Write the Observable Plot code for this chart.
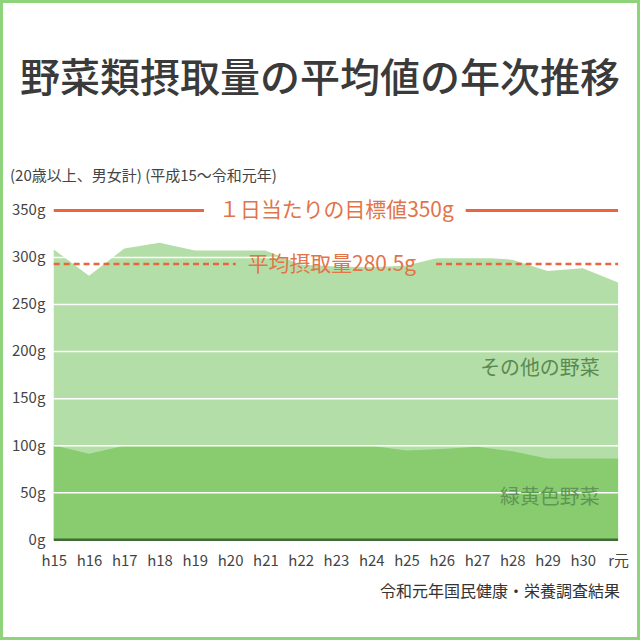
<!DOCTYPE html>
<html><head><meta charset="utf-8">
<script src="https://cdn.jsdelivr.net/npm/d3@7"></script>
<script src="https://cdn.jsdelivr.net/npm/@observablehq/plot@0.6"></script>
<style>
html,body{margin:0;padding:0;background:#fff;}
#frame{position:relative;width:640px;height:640px;box-sizing:border-box;border:3px solid #8fd47c;background:#fff;font-family:"Noto Sans CJK JP",sans-serif;overflow:hidden;}
#title{position:absolute;left:0;width:634px;top:47px;text-align:center;font-size:40px;line-height:50px;color:#3a3a3a;font-weight:500;white-space:nowrap;}
#subtitle{position:absolute;left:7px;top:161px;font-size:15px;line-height:22px;color:#444;white-space:nowrap;}
#chart{position:absolute;left:-3px;top:187px;}
#caption{position:absolute;right:17px;top:575px;font-size:16px;line-height:24px;color:#333;white-space:nowrap;}
</style></head>
<body>
<div id="frame">
  <div id="title">野菜類摂取量の平均値の年次推移</div>
  <div id="subtitle">(20歳以上、男女計) (平成15〜令和元年)</div>
  <div id="chart"></div>
  <div id="caption">令和元年国民健康・栄養調査結果</div>
</div>
<script>
// Data
const years = ["h15","h16","h17","h18","h19","h20","h21","h22","h23","h24","h25","h26","h27","h28","h29","h30","r元"];
const totalVeg = [308, 280, 309, 315, 307, 307, 307, 292, 290, 289, 291, 300, 300, 297, 285, 288, 273];
const greenYellowVeg = [100, 91, 99.5, 99.5, 99.5, 99.5, 99.5, 99.5, 99.5, 99.5, 94.5, 96, 98.5, 93.5, 86, 86, 86];
const yTicks = [0, 50, 100, 150, 200, 250, 300, 350];
const targetValue = 350;
const targetLabel = "１日当たりの目標値350g";
const averageValue = 293;
const averageLabel = "平均摂取量280.5g";
const seriesLabels = ["その他の野菜", "緑黄色野菜"];

const data = years.map((y, i) => ({i, year: y, total: totalVeg[i], gy: greenYellowVeg[i]}));
const orange = "#e8653d";
const textOrange = "#e27448";

const chart = Plot.plot({
  width: 640,
  height: 395,
  marginTop: 20,
  marginBottom: 44,
  marginLeft: 54,
  marginRight: 19,
  style: {fontFamily: '"Noto Sans CJK JP", sans-serif', background: "transparent", color: "#444"},
  x: {type: "linear", domain: [0, years.length - 1]},
  y: {domain: [0, 350]},
  marks: [
    Plot.areaY(data, {x: "i", y: "total", fill: "#b4dea8", curve: "linear"}),
    Plot.areaY(data, {x: "i", y: "gy", fill: "#88cc6f", curve: "linear"}),
    Plot.ruleY(yTicks.filter(d => d > 0 && d < 350), {stroke: "white", strokeWidth: 1.5}),
    Plot.ruleY([0], {stroke: "#3e6b36", strokeWidth: 2.5}),
    Plot.axisY({ticks: yTicks, tickFormat: d => d + "g", tickSize: 0, tickPadding: 9, fontSize: 15, label: null}),
    Plot.axisX({ticks: d3.range(years.length), tickFormat: i => years[i], tickSize: 0, tickPadding: 16, fontSize: 15, label: null}),
    // target line with gap for label
    Plot.ruleY([{y: targetValue, x1: 0, x2: 4.26}, {y: targetValue, x1: 11.68, x2: years.length - 1}],
      {y: "y", x1: "x1", x2: "x2", stroke: orange, strokeWidth: 3}),
    Plot.text([targetLabel], {x: 8.0, y: targetValue, text: d => d, fill: textOrange, fontSize: 21}),
    // average dashed line with gap for label
    Plot.ruleY([{y: averageValue, x1: 0, x2: 5.16}, {y: averageValue, x1: 10.84, x2: years.length - 1}],
      {y: "y", x1: "x1", x2: "x2", stroke: orange, strokeWidth: 2.5, strokeDasharray: "6,4"}),
    Plot.text([averageLabel], {x: 7.87, y: averageValue, text: d => d, fill: textOrange, fontSize: 21}),
    Plot.text([seriesLabels[0]], {x: 15.46, y: 182, text: d => d, textAnchor: "end", fill: "#5a8a52", fontSize: 20}),
    Plot.text([seriesLabels[1]], {x: 15.46, y: 45, text: d => d, textAnchor: "end", fill: "#5f9555", fontSize: 20})
  ]
});
document.getElementById("chart").appendChild(chart);
</script>
</body></html>
